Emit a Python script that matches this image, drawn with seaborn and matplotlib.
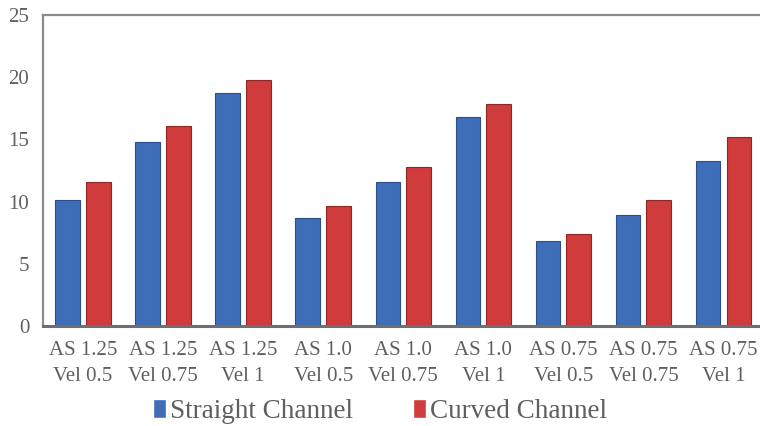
import matplotlib
matplotlib.use("Agg")
import matplotlib.pyplot as plt
import seaborn as sns
import pandas as pd

categories = ["AS 1.25\nVel 0.5", "AS 1.25\nVel 0.75", "AS 1.25\nVel 1",
              "AS 1.0\nVel 0.5", "AS 1.0\nVel 0.75", "AS 1.0\nVel 1",
              "AS 0.75\nVel 0.5", "AS 0.75\nVel 0.75", "AS 0.75\nVel 1"]
straight = [10.15, 14.77, 18.7, 8.72, 11.57, 16.8, 6.81, 8.91, 13.27]
curved = [11.54, 16.1, 19.8, 9.66, 12.75, 17.87, 7.43, 10.12, 15.2]
series_names = ["Straight Channel", "Curved Channel"]
yticks = [0, 5, 10, 15, 20, 25]

df = pd.DataFrame({
    "cat": categories * 2,
    "val": straight + curved,
    "series": [series_names[0]] * len(categories) + [series_names[1]] * len(categories),
})

sns.set_theme(style="white")
plt.rcParams["font.family"] = ["Liberation Serif", "DejaVu Serif"]

text_color = "#5F5F5F"
colors = ["#3E6EB7", "#D03B3B"]
edges = ["#2A4E8C", "#8F2626"]

fig = plt.figure(figsize=(7.6, 4.26), dpi=100)
ax = fig.add_axes([0.0566, 0.2347, 0.948, 0.7301])

sns.barplot(data=df, x="cat", y="val", hue="series", order=categories,
            hue_order=series_names, palette=colors, width=0.77, gap=0.2,
            ax=ax, legend=True, saturation=1)

for i, cont in enumerate(ax.containers):
    for p in cont.patches:
        p.set_edgecolor(edges[i])
        p.set_linewidth(0.8)

ax.set_xlim(-0.5, 8.5)
ax.set_ylim(0, 25)
ax.set_yticks(yticks)
ax.set_xlabel("")
ax.set_ylabel("")
ax.tick_params(axis="both", length=0, colors=text_color, labelsize=15)
ax.tick_params(axis="y", pad=10)
ax.tick_params(axis="x", pad=11)
for lbl in ax.get_xticklabels():
    lbl.set_linespacing(1.45)

ax.spines["right"].set_visible(False)
ax.spines["top"].set_color("#8C8C8C")
ax.spines["top"].set_linewidth(1.6)
ax.spines["left"].set_color("#8C8C8C")
ax.spines["left"].set_linewidth(1.6)
ax.spines["bottom"].set_color("#6E6E6E")
ax.spines["bottom"].set_linewidth(2.2)

handles, labels = ax.get_legend_handles_labels()
ax.legend_.remove()
fig.legend(handles, labels, loc="center", bbox_to_anchor=(0.5, 0.035), ncol=2,
           frameon=False, fontsize=19.5, labelcolor=text_color, handlelength=0.5,
           handleheight=0.7, handletextpad=0.15, columnspacing=2.2,
           borderpad=0.1)

fig.savefig("out.png", dpi=100)
